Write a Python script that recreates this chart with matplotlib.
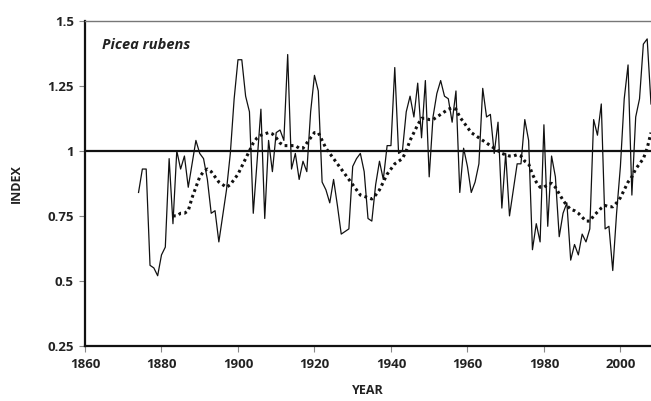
#!/usr/bin/env python
import matplotlib as mpl
mpl.use('Agg')
import matplotlib.pyplot as plt
import numpy as np

dpi = 100.0
w, h = 651, 401

# ring width index, annual
years = np.arange(1874, 2009)
index = [0.84, 0.93, 0.93, 0.56, 0.55, 0.52, 0.60, 0.63, 0.97, 0.72,
         1.00, 0.93, 0.98, 0.86, 0.95, 1.04, 0.99, 0.97, 0.89, 0.76,
         0.77, 0.65, 0.75, 0.85, 0.99, 1.20, 1.35, 1.35, 1.21, 1.15,
         0.76, 0.96, 1.16, 0.74, 1.04, 0.92, 1.07, 1.08, 1.04, 1.37,
         0.93, 0.99, 0.89, 0.96, 0.92, 1.15, 1.29, 1.23, 0.88, 0.85,
         0.80, 0.89, 0.79, 0.68, 0.69, 0.70, 0.94, 0.97, 0.99, 0.92,
         0.74, 0.73, 0.87, 0.96, 0.89, 1.02, 1.02, 1.32, 0.99, 1.00,
         1.15, 1.21, 1.13, 1.26, 1.05, 1.27, 0.90, 1.13, 1.22, 1.27,
         1.21, 1.20, 1.11, 1.23, 0.84, 1.01, 0.94, 0.84, 0.88, 0.95,
         1.24, 1.13, 1.14, 0.99, 1.11, 0.78, 0.99, 0.75, 0.85, 0.95,
         0.95, 1.12, 1.04, 0.62, 0.72, 0.65, 1.10, 0.71, 0.98, 0.90,
         0.67, 0.76, 0.80, 0.58, 0.64, 0.60, 0.68, 0.65, 0.70, 1.12,
         1.06, 1.18, 0.70, 0.71, 0.54, 0.76, 0.94, 1.20, 1.33, 0.83,
         1.13, 1.20, 1.41, 1.43, 1.18]

# smoothed curve
years_s = np.arange(1883, 2009)
smooth = [0.75, 0.75, 0.76, 0.76, 0.77, 0.82, 0.86, 0.90, 0.92, 0.93,
          0.92, 0.90, 0.88, 0.87, 0.86, 0.87, 0.89, 0.91, 0.94, 0.97,
          1.00, 1.03, 1.05, 1.06, 1.065, 1.07, 1.065, 1.05, 1.03, 1.02,
          1.02, 1.02, 1.02, 1.01, 1.01, 1.03, 1.05, 1.07, 1.07, 1.04,
          1.01, 0.99, 0.97, 0.95, 0.93, 0.91, 0.89, 0.87, 0.85, 0.83,
          0.825, 0.82, 0.815, 0.83, 0.85, 0.88, 0.91, 0.93, 0.95, 0.96,
          0.97, 1.00, 1.04, 1.07, 1.10, 1.125, 1.125, 1.12, 1.12, 1.13,
          1.14, 1.15, 1.16, 1.165, 1.16, 1.13, 1.11, 1.09, 1.07, 1.06,
          1.05, 1.04, 1.03, 1.02, 1.01, 1.00, 0.99, 0.985, 0.98, 0.98,
          0.985, 0.98, 0.96, 0.95, 0.91, 0.88, 0.86, 0.86, 0.87, 0.875,
          0.86, 0.835, 0.81, 0.79, 0.775, 0.77, 0.76, 0.745, 0.73, 0.73,
          0.75, 0.765, 0.78, 0.79, 0.785, 0.785, 0.80, 0.82, 0.85, 0.88,
          0.90, 0.93, 0.95, 0.97, 1.01, 1.07]

xticks = [1860, 1880, 1900, 1920, 1940, 1960, 1980, 2000]
yticks = [0.25, 0.5, 0.75, 1.0, 1.25, 1.5]
ylabels = ['0.25', '0.5', '0.75', '1', '1.25', '1.5']

plt.rcParams['font.family'] = ['Open Sans', 'DejaVu Sans']

fig = plt.figure(figsize=(w / dpi, h / dpi), dpi=dpi)
ax = fig.add_axes([85.0 / w, 55.0 / h, 566.0 / w, 325.3 / h])

ax.axhline(1.0, color='#111111', lw=1.6, zorder=1)
ax.plot(years, index, color='#111111', lw=0.9, zorder=2)
ax.plot(years_s, smooth, color='#111111', lw=2.2, ls=(0, (0.9, 1.1)), zorder=3)

ax.set_xlim(1860, 2008)
ax.set_ylim(0.25, 1.5)
ax.set_xticks(xticks)
ax.set_yticks(yticks)
ax.set_yticklabels(ylabels)

for lab in ax.get_xticklabels() + ax.get_yticklabels():
    lab.set_fontweight('bold')
    lab.set_fontsize(9.5)
    lab.set_color('#222222')
ax.tick_params(axis='both', direction='out', length=4, width=0.8, color='#888888')
ax.tick_params(axis='x', pad=5)
ax.tick_params(axis='y', pad=4)

ax.spines['right'].set_visible(False)
ax.spines['top'].set_color('#777777')
ax.spines['top'].set_linewidth(1.0)
ax.spines['left'].set_color('#111111')
ax.spines['left'].set_linewidth(1.6)
ax.spines['bottom'].set_color('#111111')
ax.spines['bottom'].set_linewidth(1.6)

ax.set_xlabel('YEAR', fontsize=9, fontweight='bold', color='#222222', labelpad=9)
ax.set_ylabel('INDEX', fontsize=9, fontweight='bold', color='#222222', labelpad=18)

ax.text(0.03, 0.925, 'Picea rubens', transform=ax.transAxes, fontsize=10.5,
        fontweight='bold', fontstyle='italic', color='#222222',
        verticalalignment='center', horizontalalignment='left')

plt.savefig('out.png', dpi=dpi)
plt.close()
